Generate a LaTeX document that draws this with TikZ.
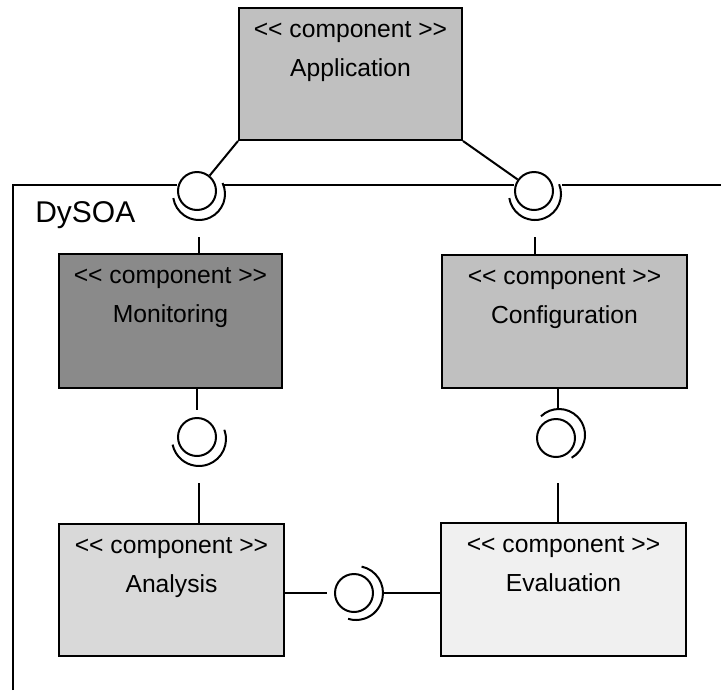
\documentclass[tikz,border=0pt]{standalone}
\usepackage{fontspec}
\setmainfont{Liberation Sans}
\usetikzlibrary{calc}
\definecolor{appfill}{HTML}{C0C0C0}
\definecolor{monfill}{HTML}{8A8A8A}
\definecolor{conffill}{HTML}{C0C0C0}
\definecolor{anafill}{HTML}{D9D9D9}
\definecolor{evalfill}{HTML}{F0F0F0}
\tikzset{
  comp/.style={draw=black, line width=1.5pt, rectangle, inner sep=0pt},
  lbl/.style={inner sep=0pt, anchor=base, font=\fontsize{18.5}{22}\selectfont},
  ball/.style={draw=black, line width=1.5pt, circle, inner sep=0pt, minimum size=28.5pt},
  wire/.style={draw=black, line width=1.5pt},
}
\begin{document}
\begin{tikzpicture}[x=0.75pt, y=-0.75pt]
\useasboundingbox (0,0) rectangle (721,690);

% components
\node[comp, fill=appfill,  minimum width=167.25pt, minimum height=99pt]    (app)  at (350.5,74) {};
\node[comp, fill=monfill,  minimum width=167.25pt, minimum height=100.5pt] (mon)  at (170.5,321) {};
\node[comp, fill=conffill, minimum width=183.75pt, minimum height=99.75pt] (conf) at (564.5,321.5) {};
\node[comp, fill=anafill,  minimum width=168.75pt, minimum height=99pt]    (ana)  at (171.5,590) {};
\node[comp, fill=evalfill, minimum width=183.75pt, minimum height=99.75pt] (eval) at (563.5,589.5) {};

\foreach \n/\t in {app/Application, mon/Monitoring, conf/Configuration, ana/Analysis, eval/Evaluation}{
  \node[lbl] (\n-st) at ($(\n.north)+(0,30)$) {<{}< component >{}>};
  \node[lbl] (\n-nm) at ($(\n.north)+(0,69)$) {\t};
}

% frame
\coordinate (fbl) at (13,690);
\coordinate (ftl) at (13,185);
\coordinate (ftr) at (721,185);
\node[lbl, anchor=base west, font=\fontsize{22.5}{27}\selectfont] (dysoa) at (35,222) {DySOA};

% balls
\node[ball] (b1) at (197,191) {};
\node[ball] (b2) at (534,191) {};
\node[ball] (b3) at (197,437) {};
\node[ball] (b4) at (556,438) {};
\node[ball] (b5) at (354,593) {};

% sockets
\draw[wire] (199,194) ++(-25:26) arc[start angle=-25, end angle=171, radius=26];
\draw[wire] (535,194) ++(-22:26) arc[start angle=-22, end angle=171, radius=26];
\draw[wire] (199,439) ++(-20:27) arc[start angle=-20, end angle=168, radius=27];
\draw[wire] (559,435) ++(-134:26) arc[start angle=-134, end angle=61, radius=26];
\draw[wire] (356,593) ++(-78:27) arc[start angle=-78, end angle=107, radius=27];

% frame lines
\coordinate (s1r) at (224,185);
\coordinate (s2r) at (562,185);
\draw[wire] (fbl) -- (ftl) -- (b1.west |- ftl);
\draw[wire] (s1r) -- (b2.west |- ftl);
\draw[wire] (s2r) -- (ftr);

% connectors
\draw[wire] (app.south west) -- (b1);
\draw[wire] (app.south east) -- (b2);

\coordinate (s1b) at (199,237);
\draw[wire] (s1b) -- (s1b |- mon.north);
\coordinate (s2b) at (535,237);
\draw[wire] (s2b) -- (s2b |- conf.north);

\coordinate (b3t) at (197,410);
\draw[wire] (b3t |- mon.south) -- (b3t);
\coordinate (s3b) at (199,483);
\draw[wire] (s3b) -- (s3b |- ana.north);

\coordinate (s4t) at (558,409);
\draw[wire] (s4t |- conf.south) -- (s4t);
\coordinate (s4b) at (558,483);
\draw[wire] (s4b) -- (s4b |- eval.north);

\coordinate (b5l) at (327,593);
\draw[wire] (ana.east |- b5l) -- (b5l);
\coordinate (s5r) at (383,593);
\draw[wire] (s5r) -- (s5r -| eval.west);
\end{tikzpicture}
\end{document}
